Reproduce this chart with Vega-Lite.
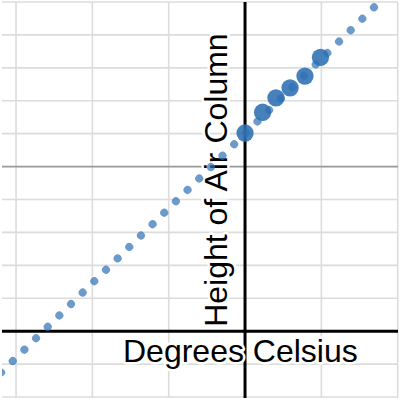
{
  "$schema": "https://vega.github.io/schema/vega-lite/v6.json",
  "width": 400,
  "height": 400,
  "autosize": {"type": "fit", "contains": "padding"},
  "padding": 0,
  "background": "white",
  "config": {"view": {"stroke": null}},
  "datasets": {
    "pts": [
      {"t": 0, "h": 6.02},
      {"t": 23, "h": 6.65},
      {"t": 40.5, "h": 7.09},
      {"t": 59, "h": 7.39},
      {"t": 78.5, "h": 7.75},
      {"t": 98.8, "h": 8.32}
    ],
    "fit": [
      {"t": -319.6, "h": -1.255},
      {"t": 210, "h": 10.77}
    ],
    "gx": [{"t": -300}, {"t": -200}, {"t": -100}, {"t": 100}, {"t": 200}],
    "gy": [{"h": -2}, {"h": -1}, {"h": 1}, {"h": 2}, {"h": 3}, {"h": 4}, {"h": 6}, {"h": 7}, {"h": 8}, {"h": 9}, {"h": 10}],
    "major": [{"h": 5}],
    "origin": [{"t": 0, "h": 0}],
    "xlab": [{"t": -6.1, "h": -0.926, "label": "Degrees Celsius"}],
    "ylab": [{"t": -24, "h": 4.59, "label": "Height of Air Column"}]
  },
  "layer": [
    {
      "data": {"name": "gx"},
      "mark": {"type": "rule", "color": "#dcdcdc", "strokeWidth": 1.6},
      "encoding": {
        "x": {"field": "t", "type": "quantitative", "scale": {"domain": [-318.4, 200.4], "nice": false, "zero": false}, "axis": null}
      }
    },
    {
      "data": {"name": "gy"},
      "mark": {"type": "rule", "color": "#dcdcdc", "strokeWidth": 1.6},
      "encoding": {
        "y": {"field": "h", "type": "quantitative", "scale": {"domain": [-2.03, 10], "nice": false, "zero": false}, "axis": null}
      }
    },
    {
      "data": {"name": "major"},
      "mark": {"type": "rule", "color": "#999999", "strokeWidth": 1.6},
      "encoding": {"y": {"field": "h", "type": "quantitative", "axis": null}}
    },
    {
      "data": {"name": "origin"},
      "mark": {"type": "rule", "color": "#000000", "strokeWidth": 3},
      "encoding": {"y": {"field": "h", "type": "quantitative", "axis": null}}
    },
    {
      "data": {"name": "origin"},
      "mark": {"type": "rule", "color": "#000000", "strokeWidth": 3},
      "encoding": {"x": {"field": "t", "type": "quantitative", "axis": null}}
    },
    {
      "data": {"name": "xlab"},
      "mark": {"type": "text", "font": "Liberation Sans", "fontSize": 32, "align": "center", "baseline": "alphabetic", "stroke": "white", "strokeWidth": 5, "strokeJoin": "round", "fill": "white"},
      "encoding": {"x": {"field": "t", "type": "quantitative", "axis": null}, "y": {"field": "h", "type": "quantitative", "axis": null}, "text": {"field": "label"}}
    },
    {
      "data": {"name": "ylab"},
      "mark": {"type": "text", "font": "Liberation Sans", "fontSize": 32, "align": "center", "baseline": "alphabetic", "angle": 270, "stroke": "white", "strokeWidth": 5, "strokeJoin": "round", "fill": "white"},
      "encoding": {"x": {"field": "t", "type": "quantitative", "axis": null}, "y": {"field": "h", "type": "quantitative", "axis": null}, "text": {"field": "label"}}
    },
    {
      "data": {"name": "xlab"},
      "mark": {"type": "text", "font": "Liberation Sans", "fontSize": 32, "align": "center", "baseline": "alphabetic", "fill": "#000000"},
      "encoding": {"x": {"field": "t", "type": "quantitative", "axis": null}, "y": {"field": "h", "type": "quantitative", "axis": null}, "text": {"field": "label"}}
    },
    {
      "data": {"name": "ylab"},
      "mark": {"type": "text", "font": "Liberation Sans", "fontSize": 32, "align": "center", "baseline": "alphabetic", "angle": 270, "fill": "#000000"},
      "encoding": {"x": {"field": "t", "type": "quantitative", "axis": null}, "y": {"field": "h", "type": "quantitative", "axis": null}, "text": {"field": "label"}}
    },
    {
      "data": {"name": "fit"},
      "mark": {"type": "line", "color": "#2d70b3", "opacity": 0.7, "strokeWidth": 8, "strokeCap": "round", "strokeDash": [0.01, 16.3], "clip": true},
      "encoding": {"x": {"field": "t", "type": "quantitative", "axis": null}, "y": {"field": "h", "type": "quantitative", "axis": null}}
    },
    {
      "data": {"name": "pts"},
      "mark": {"type": "point", "filled": true, "size": 300, "color": "#2d70b3", "opacity": 0.88},
      "encoding": {"x": {"field": "t", "type": "quantitative", "axis": null}, "y": {"field": "h", "type": "quantitative", "axis": null}}
    }
  ]
}
